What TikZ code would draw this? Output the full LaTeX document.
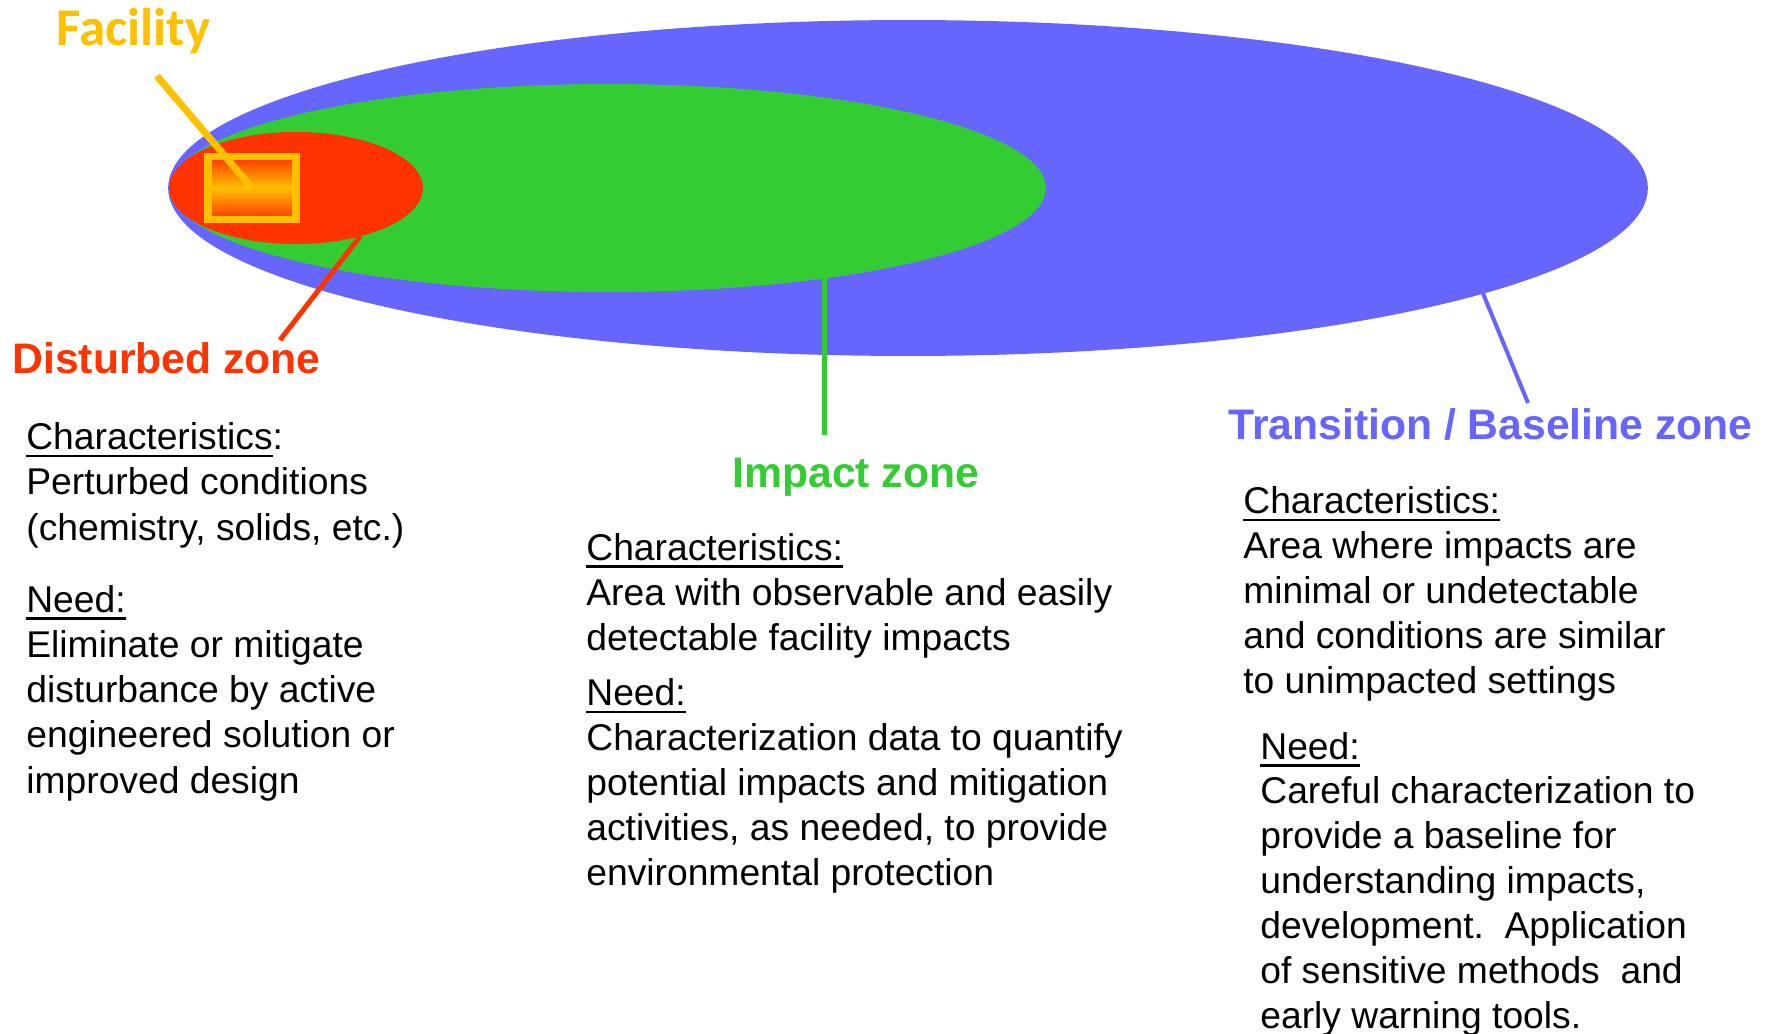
\documentclass[tikz,border=0pt]{standalone}
\usepackage{fontspec}
\setmainfont{Liberation Sans}
\newfontfamily\calibrifont{Carlito}
\usetikzlibrary{shapes.geometric, positioning}

\definecolor{zoneblue}{HTML}{6666FF}
\definecolor{zonegreen}{HTML}{33CC33}
\definecolor{zonered}{HTML}{FF3300}
\definecolor{facgold}{HTML}{FFC000}

\newsavebox\ulbox
\newcommand{\ulin}[1]{\sbox\ulbox{#1}\rlap{\rule[-0.2em]{\wd\ulbox}{0.07em}}\usebox\ulbox}

\begin{document}
\begin{tikzpicture}[
    x=0.02cm, y=-0.02cm,
    zone/.style={ellipse, inner sep=0pt, outer sep=0pt},
    lead/.style={line width=2.85pt},
    zonelabel/.style={inner sep=0pt, anchor=base west, font=\bfseries\fontsize{24.3pt}{28pt}\selectfont},
    body/.style={inner sep=0pt, anchor=base west, align=left}
]
    \useasboundingbox (0,0) rectangle (1772,1034);

    \node [zone, fill=zoneblue, minimum width=29.6cm, minimum height=6.72cm] (transition) at (908,188) {};
    \node [zone, fill=zonegreen, minimum width=17.52cm, minimum height=4.16cm] (impact) at (608,188) {};
    \node [zone, fill=zonered, minimum width=5.08cm, minimum height=2.24cm] (disturbed) at (296,188) {};
    \node [rectangle, draw=facgold, line width=4.5pt, top color=zonered, bottom color=zonered, middle color=facgold,
           minimum width=1.76cm, minimum height=1.26cm, inner sep=0pt] (facility) at (252,188) {};

    \coordinate (facility-tip) at (157,76);
    \coordinate (disturbed-tip) at (280,340);
    \coordinate (impact-tip) at (824,435);
    \coordinate (transition-foot) at (1482,291);
    \coordinate (transition-tip) at (1528,403);

    \draw [lead, facgold, line width=4pt] (facility.center) -- (facility-tip);
    \draw [lead, zonered] (disturbed.-37.4) -- (disturbed-tip);
    \draw [lead, zonegreen] (impact-tip |- impact.-22.2) -- (impact-tip);
    \draw [lead, zoneblue, line width=2.3pt] (transition-foot) -- (transition-tip);

    \node [zonelabel, text=facgold, font=\calibrifont\bfseries\fontsize{30.2pt}{35pt}\selectfont] (facility-label) at (56,46) {Facility};
    \node [zonelabel, text=zonered] (disturbed-label) at (12,373) {Disturbed zone};
    \node [zonelabel, text=zonegreen] (impact-label) at (732,487) {Impact zone};
    \node [zonelabel, text=zoneblue] (transition-label) at (1228,439) {Transition / Baseline zone};

    \node [body, font=\fontsize{21.2pt}{25.7pt}\selectfont] (disturbed-char) at (26,540)
        {\ulin{Characteristics}:\\Perturbed conditions\\(chemistry, solids, etc.)};
    \node [body, font=\fontsize{21.2pt}{25.7pt}\selectfont] (disturbed-need) at (26,793)
        {\ulin{Need:}\\Eliminate or mitigate\\disturbance by active\\engineered solution or\\improved design};

    \node [body, font=\fontsize{21.2pt}{25.5pt}\selectfont] (impact-char) at (586,650)
        {\ulin{Characteristics:}\\Area with observable and easily\\detectable facility impacts};
    \node [body, font=\fontsize{21.2pt}{25.5pt}\selectfont] (impact-need) at (586,885)
        {\ulin{Need:}\\Characterization data to quantify\\potential impacts and mitigation\\activities, as needed, to provide\\environmental protection};

    \node [body, font=\fontsize{21.2pt}{25.5pt}\selectfont] (transition-char) at (1243,693)
        {\ulin{Characteristics:}\\Area where impacts are\\minimal or undetectable\\and conditions are similar\\to unimpacted settings};
    \node [body, font=\fontsize{21.2pt}{25.5pt}\selectfont] (transition-need) at (1260,1028)
        {\ulin{Need:}\\Careful characterization to\\provide a baseline for\\understanding impacts,\\development.~~Application\\of sensitive methods~~and\\early warning tools.};
\end{tikzpicture}
\end{document}
